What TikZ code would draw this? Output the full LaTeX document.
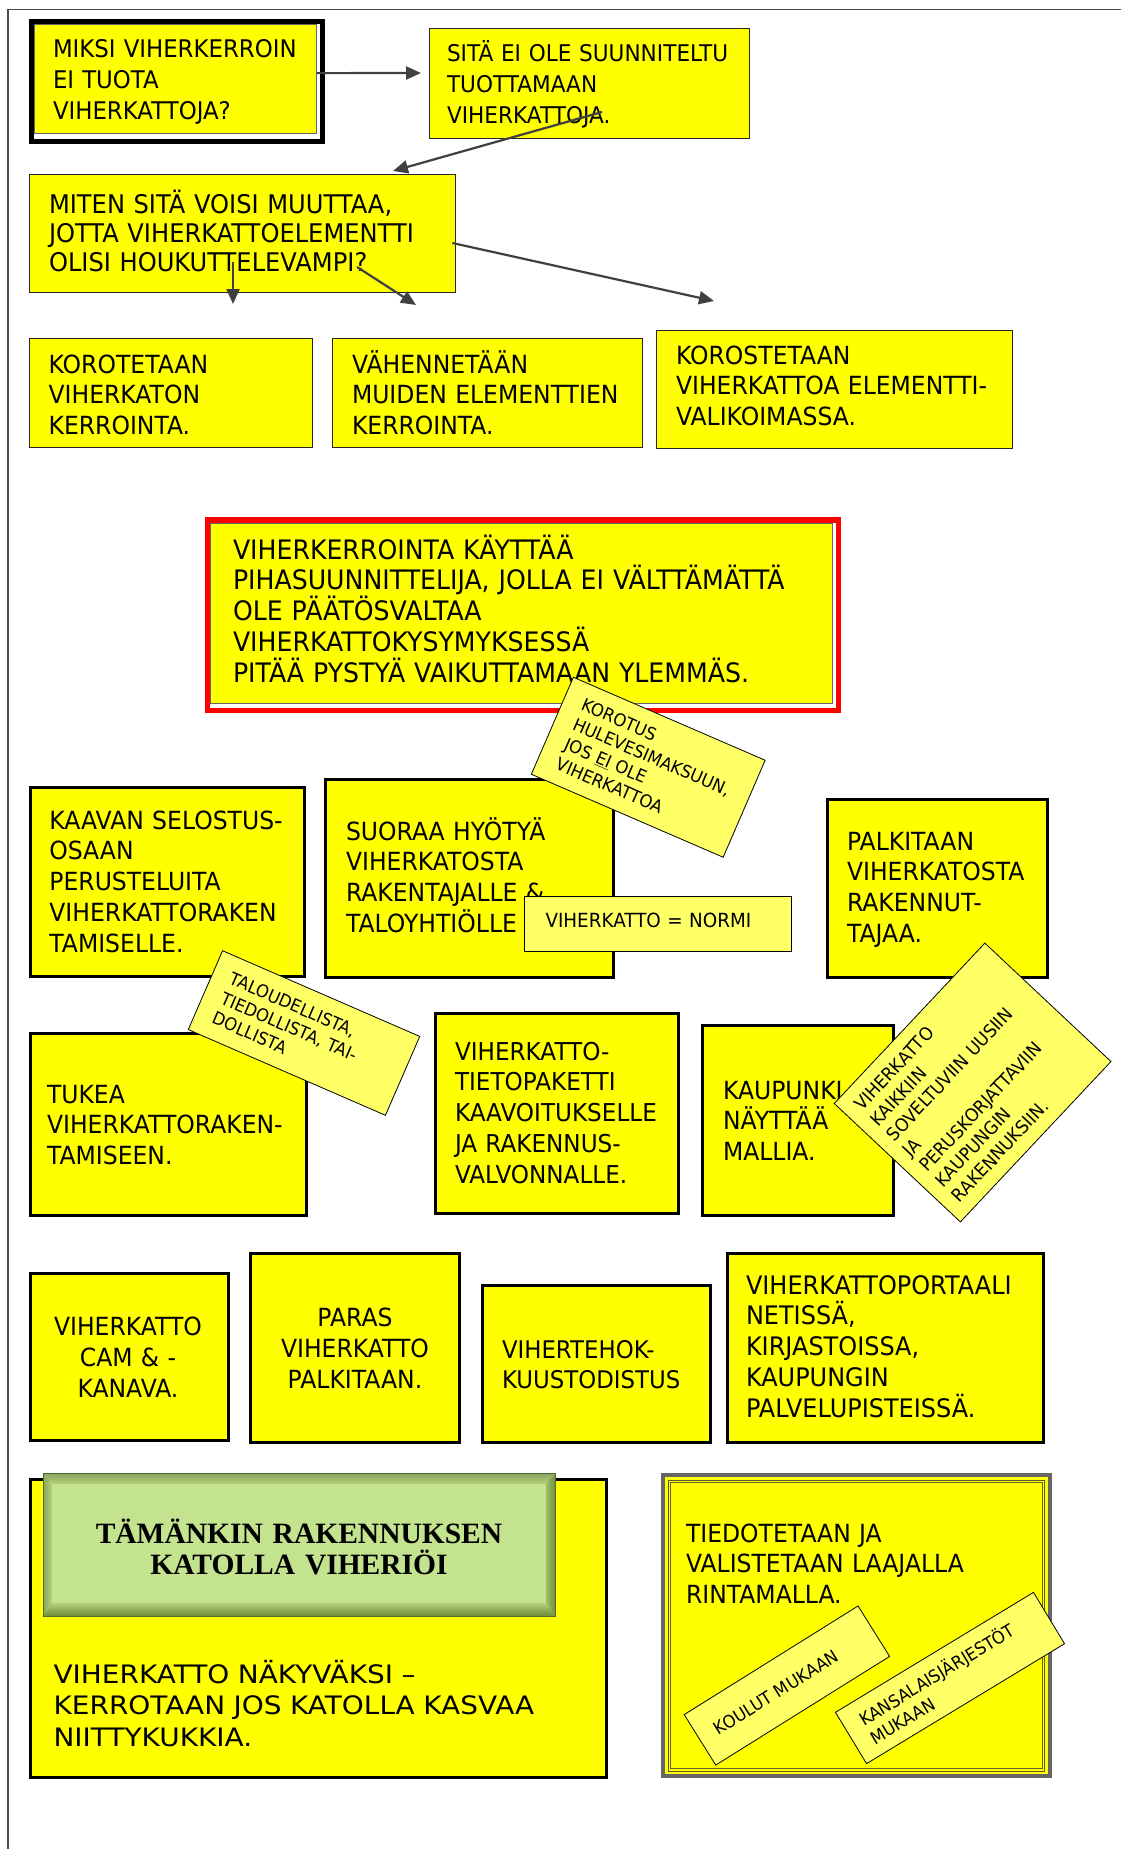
\documentclass[tikz,border=0pt]{standalone}
\usepackage{fontspec}
\setmainfont[FakeStretch=0.94]{DejaVu Sans}
\newfontfamily\widefont[FakeStretch=1.1]{DejaVu Sans}
\newfontfamily\titlefont{Liberation Serif}
\usetikzlibrary{arrows.meta,calc}
\definecolor{boxyellow}{HTML}{FFFF00}
\definecolor{noteyellow}{HTML}{FFFF66}
\definecolor{arrowgray}{HTML}{404040}
\definecolor{leafgreen}{HTML}{C4E38E}
\definecolor{bevellight}{HTML}{B3D27A}
\definecolor{beveldark}{HTML}{6E8C3A}
\definecolor{bevelrim}{HTML}{4F6B28}
% box from its outer corners: style, name, x1, y1, x2, y2, line width
\newcommand\boxnode[7]{\node[#1, line width=#7pt, minimum width={#5-#3-#7}, minimum height={#6-#4-#7}] (#2) at ({(#3+#5)/2},{(#4+#6)/2}) {};}
\begin{document}
\begin{tikzpicture}[x=1pt,y=-1pt,
  thinbox/.style={draw=black!85, fill=boxyellow, inner sep=0pt, outer sep=0pt},
  thickbox/.style={draw=black, fill=boxyellow, inner sep=0pt, outer sep=0pt},
  framebox/.style={fill=white, inner sep=0pt, outer sep=0pt},
  innerbox/.style={draw=black!60, fill=boxyellow, inner sep=0pt, outer sep=0pt},
  txt/.style={inner sep=0pt, outer sep=0pt, text width=600pt, align=left, anchor=base west,
    font=\fontsize{25}{30.8}\selectfont},
  ctxt/.style={inner sep=0pt, outer sep=0pt, text width=220pt, align=center, anchor=base,
    font=\fontsize{25}{31}\selectfont},
  note/.style={draw=black, line width=0.8pt, fill=noteyellow, inner ysep=0pt, outer sep=0pt,
    align=left, font=\fontsize{17.5}{21.5}\selectfont},
  arr/.style={draw=arrowgray, line width=2.2pt, -{Triangle[length=15pt,width=13pt]}}]
\useasboundingbox (0,0) rectangle (1121,1849);
\fill[white] (0,0) rectangle (1121,1849);
% page frame
\draw[black!70, line width=1.3pt] (8,1849) -- (8,9.5) -- (1121,9.5);

% ---- question chain ----
\boxnode{framebox, draw=black}{b1}{28.6}{19.3}{325}{144}{5}
\boxnode{innerbox}{b1in}{33.5}{24.3}{317}{134}{0.8}
\node[txt, font=\fontsize{24.3}{30.8}\selectfont] (b1t) at (53,58) {MIKSI VIHERKERROIN\\EI TUOTA\\VIHERKATTOJA?};

\boxnode{thinbox}{b2}{429}{28}{750}{139}{1}
\node[txt, font=\fontsize{23}{30.8}\selectfont] (b2t) at (447,62) {SITÄ EI OLE SUUNNITELTU\\TUOTTAMAAN\\VIHERKATTOJA.};

\boxnode{thinbox}{b3}{28.6}{174}{456}{293}{1.3}
\node[txt, font=\fontsize{25.7}{29}\selectfont] (b3t) at (49,213) {MITEN SITÄ VOISI MUUTTAA,\\JOTTA VIHERKATTOELEMENTTI\\OLISI HOUKUTTELEVAMPI?};

\boxnode{thinbox}{b4}{28.6}{338}{313}{448}{1.3}
\node[txt] (b4t) at (48.6,373) {KOROTETAAN\\VIHERKATON\\KERROINTA.};

\boxnode{thinbox}{b5}{332}{338}{643}{448}{1.3}
\node[txt] (b5t) at (352,373) {VÄHENNETÄÄN\\MUIDEN ELEMENTTIEN\\KERROINTA.};

\boxnode{thinbox}{b6}{656}{330}{1013}{449}{1.3}
\node[txt] (b6t) at (676,364) {KOROSTETAAN\\VIHERKATTOA ELEMENTTI-\\VALIKOIMASSA.};

% ---- red statement box ----
\boxnode{framebox, draw=red}{rb}{204.5}{517}{841}{713}{5.5}
\boxnode{innerbox}{rbin}{210}{523}{833}{704}{0.8}
\node[txt, font=\fontsize{26.8}{30.8}\selectfont] (rbt) at (233,559) {VIHERKERROINTA KÄYTTÄÄ\\PIHASUUNNITTELIJA, JOLLA EI VÄLTTÄMÄTTÄ\\OLE PÄÄTÖSVALTAA\\VIHERKATTOKYSYMYKSESSÄ\\PITÄÄ PYSTYÄ VAIKUTTAMAAN YLEMMÄS.};

% ---- idea boxes ----
\boxnode{thickbox}{k1}{28.5}{786}{306}{978}{3}
\node[txt] (k1t) at (49.4,829) {KAAVAN SELOSTUS-\\OSAAN\\PERUSTELUITA\\VIHERKATTORAKEN\\TAMISELLE.};

\boxnode{thickbox}{k2}{324}{778}{615}{979}{3}
\node[txt] (k2t) at (346,840) {SUORAA HYÖTYÄ\\VIHERKATOSTA\\RAKENTAJALLE \&\\TALOYHTIÖLLE};

\boxnode{thickbox}{k3}{825.5}{798}{1049}{979}{3}
\node[txt] (k3t) at (847,850) {PALKITAAN\\VIHERKATOSTA\\RAKENNUT-\\TAJAA.};

\boxnode{thickbox}{k4}{28.5}{1032}{308}{1217}{3}
\node[txt] (k4t) at (47,1103) {TUKEA\\VIHERKATTORAKEN-\\TAMISEEN.};

\boxnode{thickbox}{k5}{434}{1012}{680}{1215}{3}
\node[txt, font=\fontsize{24.6}{30.8}\selectfont] (k5t) at (455,1060) {VIHERKATTO-\\TIETOPAKETTI\\KAAVOITUKSELLE\\JA RAKENNUS-\\VALVONNALLE.};

\boxnode{thickbox}{k6}{701}{1024}{894.5}{1217}{3}
\node[txt] (k6t) at (723,1099) {KAUPUNKI\\NÄYTTÄÄ\\MALLIA.};

\boxnode{thickbox}{k7}{28.6}{1272}{230}{1442}{3}
\node[ctxt] (k7t) at (128,1335) {VIHERKATTO\\CAM \& -\\KANAVA.};

\boxnode{thickbox}{k8}{249}{1252}{461}{1444}{3}
\node[ctxt] (k8t) at (355,1326) {PARAS\\VIHERKATTO\\PALKITAAN.};

\boxnode{thickbox}{k9}{481}{1284}{712}{1444}{3}
\node[txt, font=\fontsize{24.3}{30.8}\selectfont] (k9t) at (502,1358) {VIHERTEHOK-\\KUUSTODISTUS};

\boxnode{thickbox}{k10}{725.6}{1252}{1045}{1444}{3}
\node[txt, font=\fontsize{25.5}{30.8}\selectfont] (k10t) at (746,1294) {VIHERKATTOPORTAALI\\NETISSÄ,\\KIRJASTOISSA,\\KAUPUNGIN\\PALVELUPISTEISSÄ.};

% ---- bottom row ----
\boxnode{thickbox}{k11}{28.6}{1478}{607.5}{1779}{3}
\node[txt, font=\widefont\fontsize{25.4}{31.5}\selectfont] (k11t) at (53.6,1683) {VIHERKATTO NÄKYVÄKSI –\\KERROTAAN JOS KATOLLA KASVAA\\NIITTYKUKKIA.};

% bevelled green sign
\coordinate (go1) at (43,1473);   \coordinate (go2) at (555.5,1473);
\coordinate (go3) at (555.5,1616); \coordinate (go4) at (43,1616);
\coordinate (gi1) at (52,1484);   \coordinate (gi2) at (546,1484);
\coordinate (gi3) at (546,1603);  \coordinate (gi4) at (52,1603);
\shade[top color=beveldark!80, bottom color=bevellight] (go1) -- (go2) -- (gi2) -- (gi1) -- cycle;
\shade[left color=beveldark!80, right color=bevellight] (go1) -- (gi1) -- (gi4) -- (go4) -- cycle;
\shade[left color=bevellight!70!beveldark, right color=beveldark] (go2) -- (go3) -- (gi3) -- (gi2) -- cycle;
\shade[top color=bevellight, bottom color=beveldark] (gi4) -- (gi3) -- (go3) -- (go4) -- cycle;
\node[fill=leafgreen, inner sep=0pt, outer sep=0pt, minimum width=494, minimum height=119] (gbox) at (299,1543.5) {};
\draw[bevelrim, line width=1pt] (go1) rectangle (go3);
\node[inner sep=0pt, text width=480pt, align=center, anchor=base,
  font=\titlefont\bfseries\fontsize{29.5}{31}\selectfont] (gboxt) at (299,1543) {TÄMÄNKIN RAKENNUKSEN\\KATOLLA VIHERIÖI};

% information box with double inner rule
\boxnode{thickbox, draw=black!60}{tb}{661}{1473}{1051.5}{1778}{4}
\draw[black!45!olive, line width=0.6pt] ($(tb.north west)+(5,5)$) rectangle ($(tb.south east)+(-5,-5)$);
\draw[black!35!olive, line width=0.6pt] ($(tb.north west)+(7.5,7.5)$) rectangle ($(tb.south east)+(-7.5,-7.5)$);
\node[txt] (tbt) at (686,1542) {TIEDOTETAAN JA\\VALISTETAAN LAAJALLA\\RINTAMALLA.};

% ---- sticky notes ----
\node[note, rotate=-23.4, minimum width=209, minimum height=105.7, text width=171pt, inner xsep=19pt] (n1)
  at (648.25,767.25) {KOROTUS\\HULEVESIMAKSUUN,\\JOS \underline{EI} OLE\\VIHERKATTOA};

\node[draw=black, line width=0.8pt, fill=noteyellow, inner sep=0pt, outer sep=0pt,
  minimum width=267, minimum height=55] (n2) at (658.25,923.5) {};
\node[txt, font=\fontsize{19.5}{23}\selectfont] (n2t) at (545.5,927) {VIHERKATTO = NORMI};

\node[note, rotate=-23.5, minimum width=215, minimum height=86, text width=179pt, inner xsep=18pt] (n3)
  at (304,1033) {TALOUDELLISTA,\\TIEDOLLISTA, TAI-\\DOLLISTA};

\node[note, rotate=46.8, minimum width=220, minimum height=173, text width=194pt, inner xsep=13pt,
  font=\fontsize{18}{22.3}\selectfont] (n4)
  at (972.6,1082.5) {VIHERKATTO\\KAIKKIIN\\SOVELTUVIIN UUSIIN\\JA\\PERUSKORJATTAVIIN\\KAUPUNGIN\\RAKENNUKSIIN.};

\node[note, rotate=32, minimum width=205, minimum height=59.5, text width=169pt, inner xsep=18pt] (n5)
  at (786.9,1685.5) {KOULUT MUKAAN};

\node[note, rotate=31.2, minimum width=231.5, minimum height=60, text width=197.5pt, inner xsep=17pt] (n6)
  at (950,1678) {KANSALAISJÄRJESTÖT\\MUKAAN};

% ---- connectors ----
\coordinate (t12) at (421,73);
\coordinate (t23) at (393,171);
\coordinate (t34) at (233,304);
\coordinate (t35) at (416,305);
\coordinate (t36) at (714,301);
\draw[arr] ($(b1in.east)+(0,-6)$) -- (t12);
\draw[arr] ($(b2.center)+(12.5,28.5)$) -- (t23);
\draw[arr] ($(b3.center)+(-9.3,28.5)$) -- (t34);
\draw[arr] ($(b3.center)+(114.7,33.5)$) -- (t35);
\draw[arr] ($(b3.east)+(-3,9.5)$) -- (t36);
\end{tikzpicture}
\end{document}
